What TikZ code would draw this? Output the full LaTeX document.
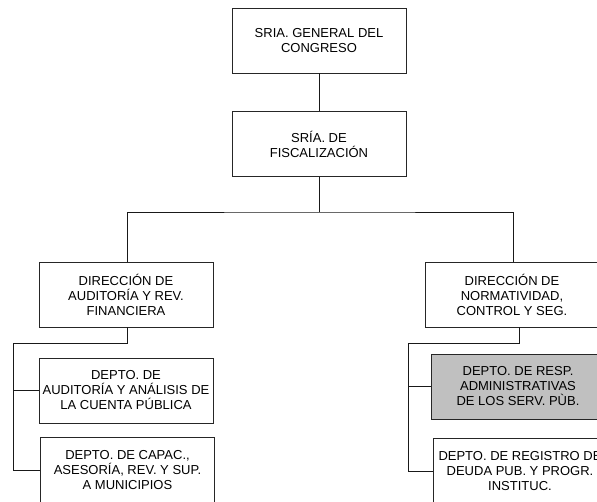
\documentclass[tikz,border=0pt]{standalone}
\usepackage{fontspec}
\setmainfont{Liberation Sans}
\usepackage{tikz}
\usetikzlibrary{positioning}
\usetikzlibrary{calc}
\definecolor{silver}{RGB}{192,192,192}

\begin{document}
\begin{tikzpicture}[x=1pt, y=-1pt,
        UNIT/.style={rectangle, draw=black!85, fill=white, line width=0.8pt, minimum width=174pt, minimum height=65pt, inner sep=1pt, align=center, font=\fontsize{13}{15}\selectfont},
        LINK/.style={draw=black!90, line width=0.8pt},
        ]
            \useasboundingbox (0,0) rectangle (597,501);
            \clip (0,0) rectangle (597,501);

            \node[UNIT] (SG) at (319, 40.5) {SRIA. GENERAL DEL\\CONGRESO};
            \node[UNIT] (SF) at (319, 144) {SRÍA. DE\\FISCALIZACIÓN};

            \node[UNIT] (DA) at (126, 294.5) {DIRECCIÓN DE\\AUDITORÍA Y REV.\\FINANCIERA};
            \node[UNIT] (DN) at (512, 294.5) {DIRECCIÓN DE\\NORMATIVIDAD,\\CONTROL Y SEG.};

            \node[UNIT] (D1) at (126, 390.5) {DEPTO. DE\\AUDITORÍA Y ANÁLISIS DE\\LA CUENTA PÚBLICA};
            \node[UNIT] (D2) at (127.5, 470) {DEPTO. DE CAPAC.,\\ASESORÍA, REV. Y SUP.\\A MUNICIPIOS};
            \node[UNIT, fill=silver] (D3) at (518, 386.5) {DEPTO. DE RESP.\\ADMINISTRATIVAS\\DE LOS SERV. PÙB.};
            \node[UNIT] (D4) at (520, 471) {DEPTO. DE REGISTRO DE\\DEUDA PUB. Y PROGR.\\INSTITUC.};

            \coordinate (bus) at (319, 212);
            \coordinate (trA) at (13, 343);
            \coordinate (trN) at (408, 343);

            \draw[LINK] (SG) -- (SF);
            \draw[LINK] (SF) -- (bus);
            \draw[LINK] ([xshift=1pt]DA.north) |- (bus) -| ([xshift=1pt]DN.north);

            \draw[LINK] ([xshift=1pt]DA.south) |- (trA) |- (D2.west);
            \draw[LINK] (trA |- D1.west) -- (D1.west);

            \draw[LINK] ([xshift=7pt]DN.south) |- (trN) |- (D4.west);
            \draw[LINK] (trN |- D3.west) -- (D3.west);
        \end{tikzpicture}
\end{document}
